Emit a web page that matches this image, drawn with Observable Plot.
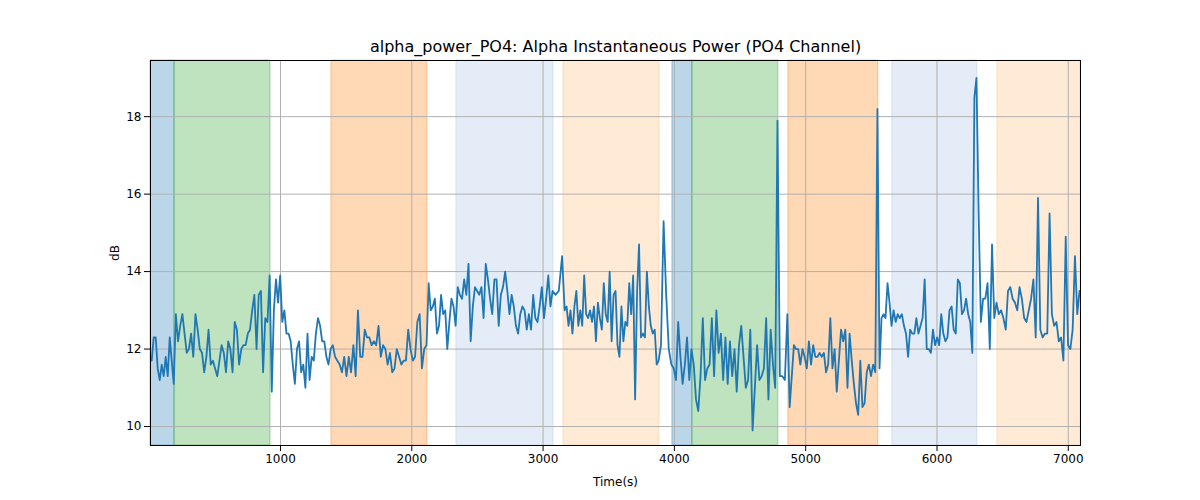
<!DOCTYPE html>
<html><head><meta charset="utf-8">
<script src="https://cdn.jsdelivr.net/npm/d3@7"></script>
<script src="https://cdn.jsdelivr.net/npm/@observablehq/plot@0.6"></script>
<style>body{margin:0;background:#fff;font-family:"DejaVu Sans",sans-serif}</style>
</head><body><div id="c"></div>
<script>
const spanStarts = [10, 193, 924, 1388, 2119, 2340, 3079, 3155, 3886, 3985, 4137, 4792, 4868, 5553, 5660, 6307, 6460];
const spanEnds   = [193, 924, 1388, 2119, 2340, 3079, 3155, 3886, 3985, 4137, 4792, 4868, 5553, 5660, 6307, 6460, 7093];
const spanKind   = ["blue","green",null,"orange",null,"lblue",null,"lorange",null,"blue","green",null,"orange",null,"lblue",null,"lorange"];
const segValues = [
 [11.7,12.3,12.3,11.5,11.2,11.6,11.3,11.8,11.3,12.3,11.7,11.1],
 [12.9,12.2,12.6,12.9,12.4,11.9,12.0,12.4,11.8,12.9,12.5,12.0,11.9,11.4,11.8,12.5,11.6,11.7,11.5,11.3,11.7,12.1,11.9,11.4,12.2,12.0,11.4,12.7,12.5,11.6,12.0,12.1,12.1,12.4,12.5,13.0,13.4,12.0,13.4,13.5,11.4,12.8,12.7,13.9],
 [10.9,13.0,13.8,13.2,13.9,12.7,13.0,12.4,12.4,12.2,11.6,11.1,12.0,12.2,11.4,11.6,11.0,12.4,11.2,11.8,11.7,12.4,12.8,12.6,12.2,12.2,11.8,11.6,12.0],
 [12.1,11.8,11.7,11.6,11.4,11.8,11.3,11.8,11.4,12.1,11.3,13.0,11.8,11.8,12.5,12.3,12.3,12.1,12.2,12.1,12.6,11.8,12.1,12.0,11.6,11.9,11.4,11.5,12.0,11.8,11.6,11.7,11.7,12.5,12.0,11.7,11.8,12.7,12.9,11.5,12.0,12.1],
 [13.7,13.0,13.1,13.3,12.4,12.6,13.4,12.9,13.0,12.0,12.7,13.3,13.1,12.6],
 [13.6,13.4,13.3,13.8,13.4,14.2,12.2,13.1,13.6,13.5,13.4,13.6,12.8,14.2,13.8,13.3,12.9,13.8,13.8,12.6,13.4,13.6,14.0,13.5,12.9,13.4,13.1,12.6,12.4,12.9,13.1,13.0,12.5,12.9,12.5,13.4,12.8,12.7,13.1,13.6,12.8,13.3,13.9,13.1,13.5],
 [13.4,13.5,14.4],
 [13.0,13.1,12.6,13.0,12.4,13.1,13.5,12.6,13.0,12.6,13.9,12.9,12.8,13.0,12.7,13.1,12.2,13.2,12.8,12.5,13.7,12.9,12.7,14.0,12.2,13.4,13.5,12.1,11.8,13.1,12.2,12.7,12.6,13.7,12.9,13.9,10.7,13.5,14.7,12.3,12.4,12.3,14.0,13.1,12.6,12.4,12.5,11.6,11.7],
 [12.1,15.3,13.4,12.0,11.6],
 [11.5,11.2,12.7,11.8,11.1,11.6,12.3,11.2,12.0],
 [11.6,10.7,10.4,11.3,12.8,11.2,11.5,11.6,12.8,11.3,13.0,11.9,12.4,11.2,12.3,11.1,12.2,11.3,12.0,10.9,12.1,12.6,11.8,11.0,11.2,12.5,9.9,11.0,12.1,11.2,11.3,11.5,12.8,10.7,12.5,11.6,11.0,17.9],
 [11.3,11.3,11.2,12.9],
 [10.5,11.3,12.1,12.0,12.0,11.6,12.0,11.8,11.5,12.2,11.6,12.1,11.8,11.8,11.9,11.8,11.9,11.4,11.6,12.8,11.5,12.0,10.9,11.7,12.5,12.2,12.5,11.0,12.4,11.7,11.1,10.6,10.3,11.7,10.5,10.6,11.4,11.6,11.3,11.6,11.4,18.2],
 [11.5,12.8,12.9,12.8,13.7,13.2,12.6],
 [13.0,12.7,12.9,12.8,12.9,12.6,12.4,11.8,12.5,12.4,12.4,12.8,12.4,12.6,12.8,13.8,12.0,12.0,11.9,12.5,12.1,12.3,12.1,12.9,12.4,12.2,12.3,13.0,13.1,12.5,12.4,13.8,13.7,12.9,13.0,13.3,12.9,12.7,11.9,18.5,19.0],
 [15.5,12.7,13.3,13.3,13.7,12.0,14.7,12.8,13.2],
 [12.9,13.0,12.8,12.5,13.5,13.6,13.3,13.2,13.0,13.6,13.3,12.8,12.7,13.0,13.3,13.8,12.3,15.9,12.5,12.3,12.4,12.4,15.5,12.9,12.6,12.7,12.2,12.3,11.7,14.9,12.1,12.0,12.5,14.4,12.9,13.5]
];
const kindColor = {blue:["#1f77b4",0.3], green:["#2ca02c",0.3], orange:["#ff7f0e",0.3], lblue:["#aec7e8",0.33], lorange:["#ffbb78",0.3]};

const spans = spanStarts.map((s,i)=>({x1:s,x2:spanEnds[i],k:spanKind[i]})).filter(d=>d.k);
const pts = [];
segValues.forEach((vals,i)=>{
  const s=spanStarts[i], e=spanEnds[i], n=vals.length;
  vals.forEach((v,j)=>pts.push({t:s+(e-s)*((j+0.6)/n), v}));
});

const chart = Plot.plot({
  width:1200, height:500,
  marginLeft:150, marginRight:120, marginTop:60, marginBottom:55,
  x:{domain:[10,7093], ticks:[1000,2000,3000,4000,5000,6000,7000], tickFormat:d3.format("d"), label:"Time(s)", labelAnchor:"center", labelArrow:"none", labelOffset:40},
  y:{domain:[9.51,19.45], ticks:[10,12,14,16,18], label:"dB", labelAnchor:"center", labelArrow:"none", labelOffset:40},
  style:{fontSize:"12px", fontFamily:"DejaVu Sans, sans-serif", color:"#000"},
  marks:[
    Plot.rectX(spans,{x1:"x1",x2:"x2",fill:d=>kindColor[d.k][0],fillOpacity:d=>kindColor[d.k][1],stroke:d=>kindColor[d.k][0],strokeOpacity:d=>kindColor[d.k][1]+0.1}),
    Plot.gridX([1000,2000,3000,4000,5000,6000,7000],{stroke:"#b0b0b0",strokeOpacity:1}),
    Plot.gridY([10,12,14,16,18],{stroke:"#b0b0b0",strokeOpacity:1}),
    Plot.line(pts,{x:"t",y:"v",stroke:"#1f77b4",strokeWidth:1.8}),
    Plot.frame({stroke:"#000"}),
    Plot.text(["alpha_power_PO4: Alpha Instantaneous Power (PO4 Channel)"],{frameAnchor:"top",dy:-20,fontSize:16,fill:"#000"})
  ]
});
document.getElementById("c").appendChild(chart);
</script></body></html>
